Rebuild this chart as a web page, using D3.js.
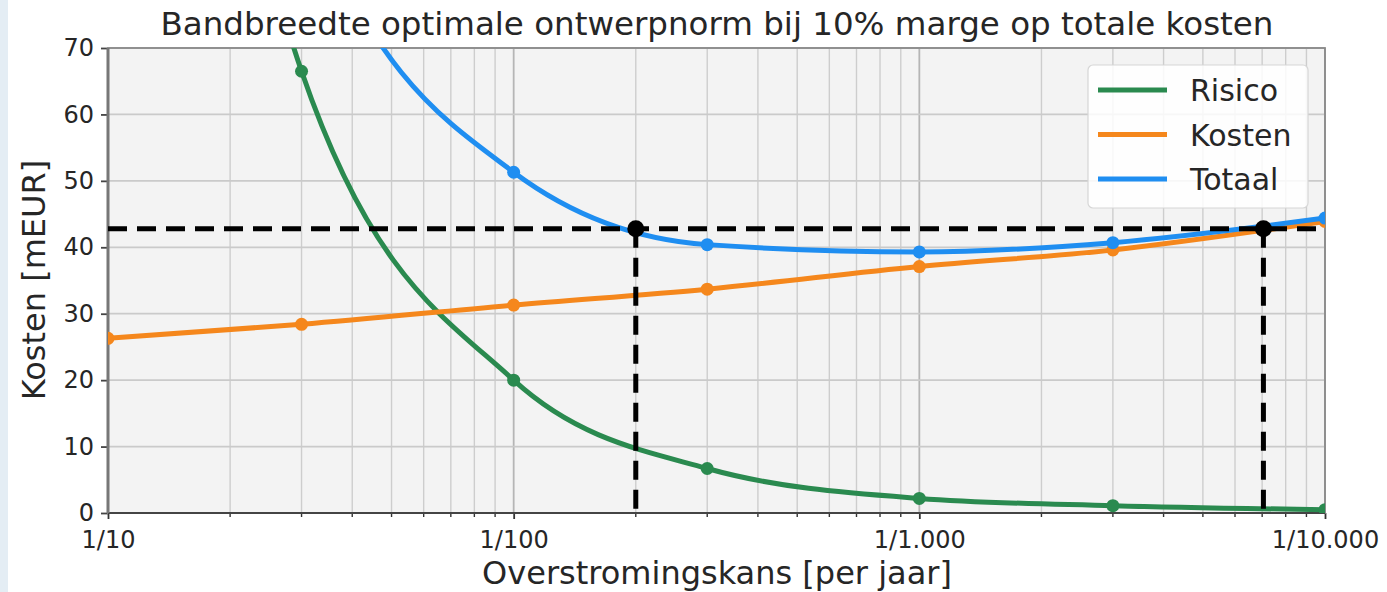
<!DOCTYPE html>
<html><head><meta charset="utf-8">
<script src="https://cdn.jsdelivr.net/npm/d3@7"></script>
<style>
html,body{margin:0;padding:0;background:#fff;}
svg{display:block;font-family:"DejaVu Sans",sans-serif;}
</style></head>
<body>
<svg id="chart" width="1387" height="592"></svg>
<script>
// ---- data ----
const returnPeriods = [10, 30, 100, 300, 1000, 3000, 10000];   // 1/T per jaar
const risico = [200, 66.5, 20.0, 6.7, 2.2, 1.1, 0.5];
const kosten = [26.3, 28.4, 31.3, 33.7, 37.1, 39.6, 43.9];
const totaal = [226.3, 94.9, 51.3, 40.4, 39.3, 40.7, 44.4];
const seriesNames = ["Risico", "Kosten", "Totaal"];
const seriesColors = ["#2a8a4f", "#f5871c", "#1f8ef1"];
const xTickValues = [10, 100, 1000, 10000];
const xTickLabels = ["1/10", "1/100", "1/1.000", "1/10.000"];
const yTickValues = [0, 10, 20, 30, 40, 50, 60, 70];
const bandLevel = 42.8;
const bandBounds = [200, 7050];
const titleText = "Bandbreedte optimale ontwerpnorm bij 10% marge op totale kosten";

// ---- layout ----
const svg = d3.select("#chart");
const m = {l: 108, r: 1325, t: 48, b: 513};
const x = d3.scaleLog().domain([10, 10000]).range([m.l, m.r]);
const y = d3.scaleLinear().domain([0, 70]).range([m.b, m.t]);
const txt = "#262626";

// left strip
svg.append("rect").attr("x", 0).attr("y", 0).attr("width", 8).attr("height", 592).attr("fill", "#e4edf4");

// plot background
svg.append("rect").attr("x", m.l).attr("y", m.t).attr("width", m.r - m.l).attr("height", m.b - m.t).attr("fill", "#f3f3f3");

svg.append("defs").append("clipPath").attr("id", "clip")
  .append("rect").attr("x", m.l).attr("y", m.t).attr("width", m.r - m.l).attr("height", m.b - m.t);

// minor grid
const minorVals = [];
for (let d = 10; d < 10000; d *= 10) for (let k = 2; k <= 9; k++) minorVals.push(d * k);
svg.append("g").selectAll("line").data(minorVals).join("line")
  .attr("x1", d => x(d)).attr("x2", d => x(d)).attr("y1", m.t).attr("y2", m.b)
  .attr("stroke", "#cdcdcd").attr("stroke-width", 1.4);
// major grid
svg.append("g").selectAll("line").data(xTickValues).join("line")
  .attr("x1", d => x(d)).attr("x2", d => x(d)).attr("y1", m.t).attr("y2", m.b)
  .attr("stroke", "#b5b5b5").attr("stroke-width", 1.8);
svg.append("g").selectAll("line").data(yTickValues).join("line")
  .attr("x1", m.l).attr("x2", m.r).attr("y1", d => y(d)).attr("y2", d => y(d))
  .attr("stroke", "#cacaca").attr("stroke-width", 1.8);

// axes
const xAxis = d3.axisBottom(x).tickValues(xTickValues).tickFormat((d, i) => xTickLabels[i]).tickSize(6).tickPadding(12);
const gx = svg.append("g").attr("transform", `translate(0,${m.b})`).call(xAxis);
gx.select(".domain").remove();
gx.selectAll("text").attr("font-size", 24).attr("fill", txt).attr("font-family", "DejaVu Sans");
gx.selectAll("line").attr("stroke", "#333").attr("stroke-width", 1.8);
svg.append("g").attr("transform", `translate(0,${m.b})`).selectAll("line").data(minorVals).join("line")
  .attr("x1", d => x(d)).attr("x2", d => x(d)).attr("y1", 0).attr("y2", 4).attr("stroke", "#333").attr("stroke-width", 1.4);

const yAxis = d3.axisLeft(y).tickValues(yTickValues).tickSize(7).tickPadding(7);
const gy = svg.append("g").attr("transform", `translate(${m.l},0)`).call(yAxis);
gy.select(".domain").remove();
gy.selectAll("text").attr("font-size", 24).attr("fill", txt).attr("font-family", "DejaVu Sans");
gy.selectAll("line").attr("stroke", "#444").attr("stroke-width", 1.8);

// spines
svg.append("rect").attr("x", m.l).attr("y", m.t).attr("width", m.r - m.l).attr("height", m.b - m.t)
  .attr("fill", "none").attr("stroke", "#8a8a8a").attr("stroke-width", 1.8);
svg.append("line").attr("x1", m.l).attr("x2", m.r).attr("y1", m.b).attr("y2", m.b).attr("stroke", "#444").attr("stroke-width", 2.2);
svg.append("line").attr("x1", m.l).attr("x2", m.l).attr("y1", m.t).attr("y2", m.b).attr("stroke", "#777").attr("stroke-width", 3);

// series
const plot = svg.append("g").attr("clip-path", "url(#clip)");
const seriesData = [risico, kosten, totaal];
const line = d3.line().x(d => x(d[0])).y(d => y(d[1])).curve(d3.curveMonotoneX);
seriesData.forEach((vals, i) => {
  const pts = returnPeriods.map((t, j) => [t, vals[j]]);
  plot.append("path").datum(pts).attr("d", line).attr("fill", "none")
    .attr("stroke", seriesColors[i]).attr("stroke-width", 5);
  plot.append("g").selectAll("circle").data(pts).join("circle")
    .attr("cx", d => x(d[0])).attr("cy", d => y(d[1])).attr("r", 6.5).attr("fill", seriesColors[i]);
});

// dashed band lines
const dash = "19,10";
plot.append("line").attr("x1", m.l).attr("x2", m.r).attr("y1", y(bandLevel)).attr("y2", y(bandLevel))
  .attr("stroke", "#000").attr("stroke-width", 5).attr("stroke-dasharray", dash);
bandBounds.forEach(t => {
  plot.append("line").attr("x1", x(t)).attr("x2", x(t)).attr("y1", y(bandLevel)).attr("y2", y(0))
    .attr("stroke", "#000").attr("stroke-width", 5).attr("stroke-dasharray", dash);
  plot.append("circle").attr("cx", x(t)).attr("cy", y(bandLevel)).attr("r", 8.5).attr("fill", "#000");
});

// legend
const lg = svg.append("g");
lg.append("rect").attr("x", 1088).attr("y", 65).attr("width", 220).attr("height", 143).attr("rx", 5)
  .attr("fill", "#fff").attr("fill-opacity", 0.85).attr("stroke", "#d6d6d6").attr("stroke-width", 1.2);
seriesNames.forEach((n, i) => {
  const yy = 90 + i * 44.5;
  lg.append("line").attr("x1", 1098).attr("x2", 1167).attr("y1", yy).attr("y2", yy)
    .attr("stroke", seriesColors[i]).attr("stroke-width", 5);
  lg.append("text").attr("x", 1190).attr("y", yy + 11).attr("font-size", 30).attr("fill", txt).text(n);
});

// titles
svg.append("text").attr("x", 717).attr("y", 35).attr("text-anchor", "middle").attr("font-size", 32.5).attr("fill", txt).text(titleText);
svg.append("text").attr("x", 717).attr("y", 584).attr("text-anchor", "middle").attr("font-size", 32).attr("fill", txt).text("Overstromingskans [per jaar]");
svg.append("text").attr("transform", "translate(45,280) rotate(-90)").attr("text-anchor", "middle").attr("font-size", 32).attr("fill", txt).text("Kosten [mEUR]");
</script>
</body></html>
